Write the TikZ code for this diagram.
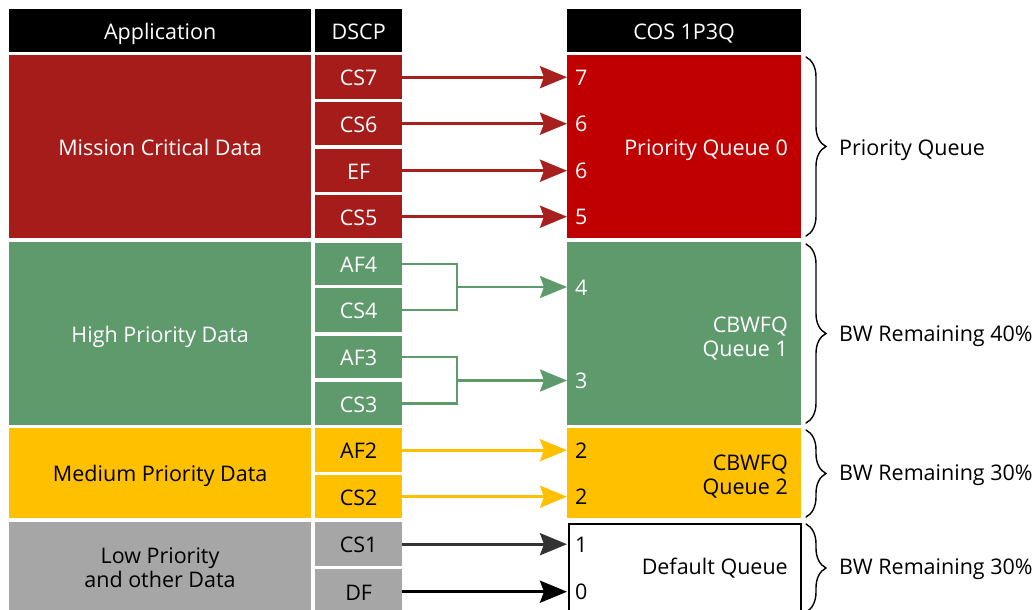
\documentclass[tikz,border=0pt]{standalone}
\usepackage{fontspec}
\setmainfont{Open Sans}
\usetikzlibrary{arrows.meta,decorations.pathreplacing}
\definecolor{redL}{HTML}{A51C1A}
\definecolor{redR}{HTML}{C00000}
\definecolor{grn}{HTML}{5F9A6D}
\definecolor{yel}{HTML}{FFC000}
\definecolor{gry}{HTML}{A6A6A6}
\definecolor{arrred}{HTML}{A8201E}
\definecolor{dkg}{HTML}{333333}
\newcommand\bx[8]{%
  \node[boxnode, fill=#6, minimum width={(#4-#2)*1pt}, minimum height={(#5-#3)*1pt}] (#1) at (#2,#3) {};
  \node[anchor=base, inner sep=0pt, text=#7] (#1t) at ([yshift=-8.5pt]#1.center) {#8};}
\tikzset{
  every node/.style={font=\fontsize{21.5}{24}\selectfont},
  boxnode/.style={inner sep=0pt, anchor=north west, align=center},
  numlbl/.style={anchor=base west, inner sep=0pt},
  qtext/.style={anchor=east, align=right, inner sep=0pt},
  arr/.style={line width=3pt, -{Stealth[length=27pt,width=22pt,inset=4pt]}},
  gline/.style={line width=2.5pt, grn},
  brc/.style={decorate, decoration={brace, amplitude=20pt}, line width=1.4pt, line cap=round},
  brlbl/.style={anchor=west, inner sep=0pt}
}
\begin{document}
\begin{tikzpicture}[x=1pt,y=-1pt]
\useasboundingbox (0,0) rectangle (1036,610);
\clip (0,0) rectangle (1036,610);
\fill[white] (0,0) rectangle (1036,610);
% headers
\bx{happ}{9}{9}{311}{52}{black}{white}{Application}
\bx{hdscp}{315}{9}{402}{52}{black}{white}{DSCP}
\bx{hcos}{567}{9}{801}{52}{black}{white}{COS 1P3Q}
% applications
\bx{mc}{9}{55}{311}{238}{redL}{white}{Mission Critical Data}
\bx{hp}{9}{242}{311}{425}{grn}{white}{High Priority Data}
\bx{mp}{9}{428}{311}{518}{yel}{black}{Medium Priority Data}
\node[boxnode, fill=gry, minimum width=302pt, minimum height=90pt] (lp) at (9,522) {};
\node[align=center, inner sep=0pt] (lpt) at (160,568) {Low Priority\\and other Data};
% DSCP
\bx{cs7}{315}{55}{402}{99}{redL}{white}{CS7}
\bx{cs6}{315}{102}{402}{145}{redL}{white}{CS6}
\bx{ef}{315}{149}{402}{192}{redL}{white}{EF}
\bx{cs5}{315}{195}{402}{238}{redL}{white}{CS5}
\bx{af4}{315}{243}{402}{285}{grn}{white}{AF4}
\bx{cs4}{315}{288}{402}{332}{grn}{white}{CS4}
\bx{af3}{315}{336}{402}{378}{grn}{white}{AF3}
\bx{cs3}{315}{382}{402}{425}{grn}{white}{CS3}
\bx{af2}{315}{428}{402}{472}{yel}{black}{AF2}
\bx{cs2}{315}{475}{402}{518}{yel}{black}{CS2}
\bx{cs1}{315}{522}{402}{566}{gry}{black}{CS1}
\bx{df}{315}{569}{402}{614}{gry}{black}{DF}
% queues
\node[boxnode, fill=redR, minimum width=234pt, minimum height=183pt] (pq) at (567,55) {};
\node[boxnode, fill=grn, minimum width=234pt, minimum height=183pt] (q1) at (567,242) {};
\node[boxnode, fill=yel, minimum width=234pt, minimum height=90pt] (q2) at (567,428) {};
\node[boxnode, fill=white, draw=black, line width=2pt, minimum width=232pt, minimum height=90pt] (dq) at (568,523) {};
\node[qtext, text=white] (tpq) at (788,150) {Priority Queue 0};
\node[qtext, text=white] (tq1) at (788,339) {CBWFQ\\Queue 1};
\node[qtext, text=black] (tq2) at (788,477) {CBWFQ\\Queue 2};
\node[qtext, text=black] (tdq) at (788,568) {Default Queue};
% numbers
\node[numlbl, text=white] (n7) at (575,85) {7};
\node[numlbl, text=white] (n6a) at (575,131.5) {6};
\node[numlbl, text=white] (n6b) at (575,178) {6};
\node[numlbl, text=white] (n5) at (575,224.5) {5};
\node[numlbl, text=white] (n4) at (575,295) {4};
\node[numlbl, text=white] (n3) at (575,388.5) {3};
\node[numlbl, text=black] (n2a) at (575,458) {2};
\node[numlbl, text=black] (n2b) at (575,504.5) {2};
\node[numlbl, text=black] (n1) at (575,552) {1};
\node[numlbl, text=black] (n0) at (575,599.5) {0};
% arrows
\draw[arr, arrred] (cs7.east) -- (cs7.east -| pq.west);
\draw[arr, arrred] (cs6.east) -- (cs6.east -| pq.west);
\draw[arr, arrred] (ef.east) -- (ef.east -| pq.west);
\draw[arr, arrred] (cs5.east) -- (cs5.east -| pq.west);
\coordinate (j4) at (457,287);
\coordinate (j3) at (457,380.5);
\draw[gline] (af4.east) -| (j4);
\draw[gline] (cs4.east) -| (j4);
\draw[gline, arr, line width=2.5pt] (j4) -- (j4 -| q1.west);
\draw[gline] (af3.east) -| (j3);
\draw[gline] (cs3.east) -| (j3);
\draw[gline, arr, line width=2.5pt] (j3) -- (j3 -| q1.west);
\draw[arr, yel] (af2.east) -- (af2.east -| q2.west);
\draw[arr, yel] (cs2.east) -- (cs2.east -| q2.west);
\draw[arr, dkg] (cs1.east) -- (cs1.east -| pq.west);
\draw[arr, black] (df.east) -- (df.east -| pq.west);
% braces
\coordinate (b1a) at (806,57);  \coordinate (b1b) at (806,236);
\coordinate (b2a) at (806,244); \coordinate (b2b) at (806,423);
\coordinate (b3a) at (806,430); \coordinate (b3b) at (806,517);
\coordinate (b4a) at (806,524); \coordinate (b4b) at (806,612);
\draw[brc] (b1a) -- (b1b);
\draw[brc] (b2a) -- (b2b);
\draw[brc] (b3a) -- (b3b);
\draw[brc] (b4a) -- (b4b);
\node[brlbl] (l1) at (839,150) {Priority Queue};
\node[brlbl] (l2) at (839,336) {BW Remaining 40\%};
\node[brlbl] (l3) at (839,475) {BW Remaining 30\%};
\node[brlbl] (l4) at (839,569) {BW Remaining 30\%};
\end{tikzpicture}
\end{document}
